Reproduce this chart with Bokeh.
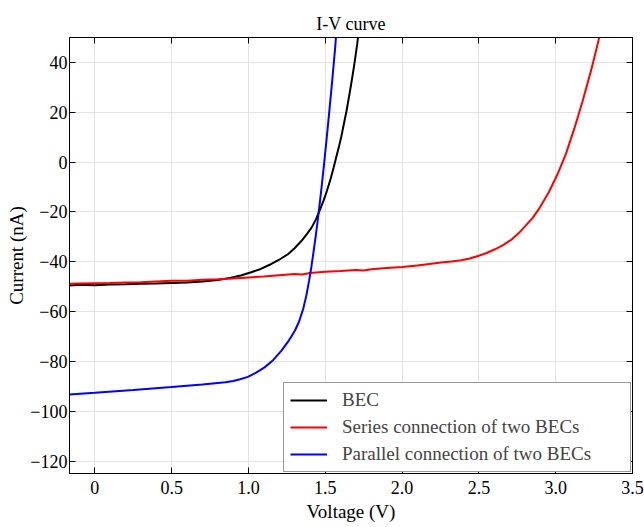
from bokeh.plotting import figure
from bokeh.models import (FixedTicker, CustomJSTickFormatter, LinearAxis, Legend,
                          LegendItem, Range1d, ColumnDataSource)
from bokeh.embed import file_html
from bokeh.resources import INLINE

# ---------------- data ----------------
bec_v = [-0.165, -0.1, 0.0, 0.1, 0.2, 0.3, 0.4, 0.5, 0.6, 0.7, 0.8, 0.886, 0.95, 1.018,
         1.08, 1.149, 1.2, 1.259, 1.3, 1.346, 1.38, 1.412, 1.44, 1.467, 1.49, 1.511, 1.535,
         1.555, 1.575, 1.588, 1.605, 1.621, 1.638, 1.654, 1.67, 1.686, 1.698, 1.708, 1.714]
bec_i = [-49.5, -49.2, -49.4, -49.1, -49.0, -48.8, -48.7, -48.5, -48.3, -47.9, -47.3, -46.4,
         -45.5, -44.2, -42.9, -40.9, -39.2, -36.9, -34.6, -31.6, -28.9, -26.2, -22.9, -18.9,
         -15.3, -11.5, -6.7, -2.1, 2.8, 5.9, 10.4, 15.3, 20.4, 26.0, 31.8, 38.0, 43.0, 47.4,
         50.5]

series_v = [-0.165, -0.1, 0.0, 0.1, 0.2, 0.3, 0.4, 0.5, 0.6, 0.7, 0.8, 0.9, 1.0, 1.1, 1.2,
            1.3, 1.35, 1.4, 1.5, 1.6, 1.7, 1.75, 1.8, 1.9, 2.0, 2.1, 2.254, 2.32, 2.386,
            2.44, 2.5, 2.55, 2.605, 2.66, 2.715, 2.76, 2.803, 2.85, 2.89, 2.956, 3.011,
            3.066, 3.121, 3.175, 3.23, 3.274, 3.285]
series_i = [-48.8, -48.7, -48.6, -48.5, -48.3, -48.2, -47.9, -47.6, -47.6, -47.2, -47.0,
            -46.7, -46.3, -45.9, -45.4, -44.9, -45.1, -44.5, -44.0, -43.7, -43.3, -43.5,
            -43.0, -42.5, -42.1, -41.5, -40.3, -39.9, -39.4, -38.7, -37.6, -36.5, -35.0,
            -33.2, -31.0, -28.5, -25.6, -22.4, -18.9, -12.0, -5.0, 3.2, 13.4, 24.4, 36.7,
            47.6, 50.5]

parallel_v = [-0.165, 0.0, 0.25, 0.5, 0.7, 0.85, 0.9, 0.946, 0.996, 1.05, 1.105, 1.16,
              1.215, 1.26, 1.303, 1.33, 1.357, 1.377, 1.395, 1.41, 1.423, 1.438, 1.452,
              1.465, 1.478, 1.491, 1.504, 1.516, 1.528, 1.538, 1.548, 1.557, 1.565, 1.57]
parallel_i = [-93.3, -92.6, -91.5, -90.3, -89.3, -88.4, -87.9, -87.2, -86.2, -84.5, -82.4,
              -79.5, -75.7, -71.9, -67.6, -63.9, -58.8, -53.5, -47.5, -41.9, -36.3, -29.6,
              -22.8, -16.1, -8.9, -1.4, 6.4, 13.8, 21.5, 28.0, 34.6, 40.8, 46.4, 50.5]

x_ticks = [0, 0.5, 1.0, 1.5, 2.0, 2.5, 3.0, 3.5]
y_ticks = [-120, -100, -80, -60, -40, -20, 0, 20, 40]
labels = ["BEC", "Series connection of two BECs", "Parallel connection of two BECs"]
colors = ["#000000", "#ff0000", "#0000ff"]

FONT = "Liberation Serif"

p = figure(width=644, height=527, x_range=Range1d(-0.165, 3.5), y_range=Range1d(-125, 50),
           output_backend="svg", toolbar_location=None, title="I-V curve",
           min_border_left=69, min_border_right=12, min_border_top=37, min_border_bottom=54)
p.background_fill_color = "white"
p.border_fill_color = "white"
p.outline_line_color = "black"
p.outline_line_width = 1

p.title.text_font = FONT
p.title.text_font_size = "18px"
p.title.text_font_style = "normal"
p.title.align = "center"
p.title.text_color = "black"
p.title.standoff = 8

xfmt = CustomJSTickFormatter(code="return tick == 0 ? '0' : tick.toFixed(1);")
yfmt = CustomJSTickFormatter(code="return tick < 0 ? '\u2212' + Math.abs(tick).toFixed(0) : tick.toFixed(0);")

for ax, ticks, fmt, lab, std, astd in [(p.xaxis[0], x_ticks, xfmt, "Voltage (V)", 7, 4),
                                       (p.yaxis[0], y_ticks, yfmt, "Current (nA)", 2, 0)]:
    ax.ticker = FixedTicker(ticks=ticks)
    ax.formatter = fmt
    ax.axis_label = lab
    ax.axis_label_text_font = FONT
    ax.axis_label_text_font_size = "19px"
    ax.axis_label_text_font_style = "normal"
    ax.axis_label_text_color = "black"
    ax.major_label_text_font = FONT
    ax.major_label_text_font_size = "18px"
    ax.major_label_text_color = "black"
    ax.major_tick_in = 6
    ax.major_tick_out = 0
    ax.minor_tick_line_color = None
    ax.axis_line_color = "black"
    ax.major_tick_line_color = "black"
    ax.major_label_standoff = std
    ax.axis_label_standoff = astd

empty = CustomJSTickFormatter(code="return '';")
for loc, ticks in [("above", x_ticks), ("right", y_ticks)]:
    ax = LinearAxis(ticker=FixedTicker(ticks=ticks), formatter=empty,
                    major_tick_in=6, major_tick_out=0, minor_tick_line_color=None,
                    major_label_text_font_size="0px", major_label_standoff=0,
                    axis_line_color="black", major_tick_line_color="black")
    p.add_layout(ax, loc)

p.xgrid.ticker = FixedTicker(ticks=x_ticks)
p.ygrid.ticker = FixedTicker(ticks=y_ticks)
p.grid.grid_line_color = "#e3e3e3"
p.grid.grid_line_width = 1

renderers = []
for v, i, c in [(bec_v, bec_i, colors[0]), (series_v, series_i, colors[1]),
                (parallel_v, parallel_i, colors[2])]:
    src = ColumnDataSource(dict(v=v, i=i))
    renderers.append(p.line("v", "i", source=src, line_color=c, line_width=2))

legend = Legend(items=[LegendItem(label=l, renderers=[r]) for l, r in zip(labels, renderers)],
                location="bottom_right", margin=1, padding=6, spacing=5,
                glyph_width=37, glyph_height=20, label_standoff=15, label_width=282,
                label_text_font=FONT, label_text_font_size="19px",
                border_line_color="#333333", border_line_width=1,
                background_fill_color="white", background_fill_alpha=1.0)
p.add_layout(legend)

open("out.html", "w", encoding="utf-8").write(file_html(p, INLINE))
